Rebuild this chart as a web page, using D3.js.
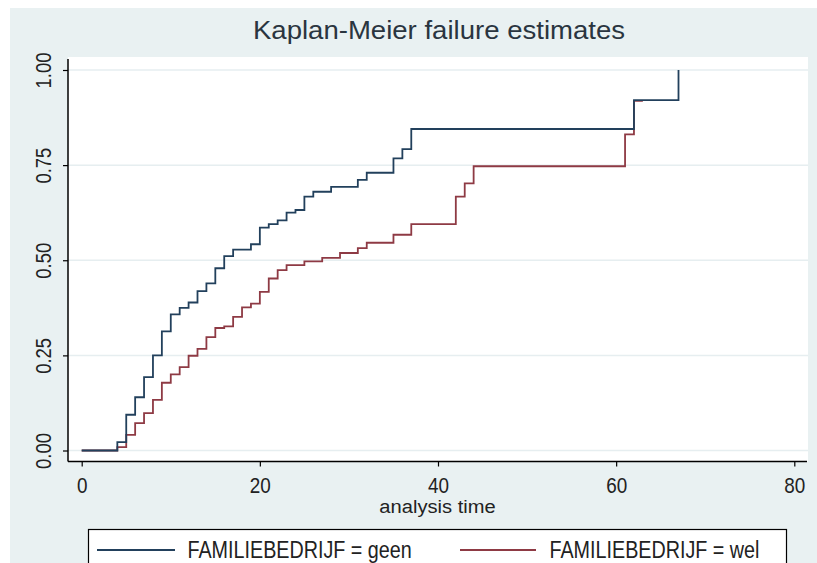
<!DOCTYPE html>
<html><head><meta charset="utf-8">
<script src="https://cdn.jsdelivr.net/npm/d3@7"></script>
<style>html,body{margin:0;padding:0;background:#fff}svg{display:block}</style>
</head><body>
<svg id="c" width="817" height="563"></svg>
<script>
// ---- data ----
const geenTime = [0, 4, 5, 6, 7, 8, 9, 10, 11, 12, 13, 14, 15, 16, 17, 19, 20, 21, 22, 23, 24, 25, 26, 28, 31, 32, 35, 36, 37, 62, 67];
const geenFail = [0, 0.022, 0.094, 0.140, 0.193, 0.250, 0.313, 0.358, 0.375, 0.389, 0.419, 0.439, 0.479, 0.511, 0.528, 0.542, 0.586, 0.595, 0.605, 0.625, 0.632, 0.667, 0.680, 0.693, 0.711, 0.730, 0.768, 0.792, 0.845, 0.921, 1.000];
const welTime = [0, 4, 5, 6, 7, 8, 9, 10, 11, 12, 13, 14, 15, 16, 17, 18, 19, 20, 21, 22, 23, 25, 27, 29, 31, 32, 35, 37, 42, 43, 44, 61, 62, 63];
const welFail = [0, 0.009, 0.041, 0.072, 0.098, 0.133, 0.178, 0.200, 0.219, 0.249, 0.267, 0.298, 0.322, 0.326, 0.351, 0.376, 0.386, 0.417, 0.452, 0.474, 0.487, 0.497, 0.506, 0.519, 0.532, 0.546, 0.567, 0.595, 0.667, 0.702, 0.747, 0.831, 0.919, 0.919];
const xTicks = [0, 20, 40, 60, 80];
const yTicks = [0, 0.25, 0.5, 0.75, 1];
const yTickLabels = ["0.00", "0.25", "0.50", "0.75", "1.00"];
const seriesNames = ["FAMILIEBEDRIJF = geen", "FAMILIEBEDRIJF = wel"];
const titleText = "Kaplan-Meier failure estimates";
const xTitle = "analysis time";

const colGeen = "#22405c", colWel = "#8e3a44";
const bg = "#e9f1f2";
const font = "'Liberation Sans',Arial,sans-serif";
const NARROW = 0.84;

const svg = d3.select("#c");
// outer graph region
svg.append("rect").attr("x",10).attr("y",8).attr("width",807).attr("height",555).attr("fill",bg);
const plotL = 68, plotR = 808, plotT = 57, plotB = 461.5;
svg.append("rect").attr("x",plotL).attr("y",plotT).attr("width",plotR-plotL).attr("height",plotB-plotT).attr("fill","#fff");

const x = d3.scaleLinear().domain([0,80]).range([81.7,794.3]);
const y = d3.scaleLinear().domain([0,1]).range([450.5,70]);

// gridlines
svg.append("g").selectAll("line").data(yTicks).join("line")
  .attr("x1",plotL).attr("x2",plotR).attr("y1",d=>y(d)).attr("y2",d=>y(d))
  .attr("stroke","#e6eef0").attr("stroke-width",1.5);

// curves
const line = d3.line().x(d=>x(d[0])).y(d=>y(d[1])).curve(d3.curveStepAfter);
const geen = geenTime.map((t,i)=>[t,geenFail[i]]);
const wel = welTime.map((t,i)=>[t,welFail[i]]);
svg.append("path").datum(wel).attr("d",line).attr("fill","none").attr("stroke",colWel).attr("stroke-width",1.8);
svg.append("path").datum(geen).attr("d",line).attr("fill","none").attr("stroke",colGeen).attr("stroke-width",1.8);

// y axis
const yAxis = d3.axisLeft(y).tickValues(yTicks).tickFormat((d,i)=>yTickLabels[i]).tickSize(5).tickSizeOuter(0);
const gy = svg.append("g").attr("transform",`translate(${plotL},0)`).call(yAxis);
gy.select(".domain").attr("d",`M0,${plotT+2}V${plotB}`).attr("stroke","#000").attr("stroke-width",1.5);
gy.selectAll(".tick line").attr("stroke","#000").attr("stroke-width",1.2);
gy.selectAll(".tick text").attr("font-family",font).attr("font-size",22).attr("fill","#222")
  .attr("transform",`rotate(-90) scale(${NARROW},1)`).attr("x",0).attr("y",-17).attr("dy",0).attr("text-anchor","middle");

// x axis
const xAxis = d3.axisBottom(x).tickValues(xTicks).tickFormat(d3.format("d")).tickSize(5).tickSizeOuter(0);
const gx = svg.append("g").attr("transform",`translate(0,${plotB})`).call(xAxis);
gx.select(".domain").attr("d",`M${plotL},0H${plotR-1}`).attr("stroke","#000").attr("stroke-width",1.5);
gx.selectAll(".tick line").attr("stroke","#000").attr("stroke-width",1.2);
gx.selectAll(".tick text").attr("font-family",font).attr("font-size",22.5).attr("fill","#222")
  .attr("transform",`scale(${NARROW},1)`).attr("y",32).attr("dy",0);

svg.append("text").attr("transform","translate(437.5,513) scale(1.06,1)").attr("text-anchor","middle")
  .attr("font-family",font).attr("font-size",19).attr("fill","#222").text(xTitle);

// title
svg.append("text").attr("transform","translate(439,39) scale(1.06,1)").attr("text-anchor","middle")
  .attr("font-family",font).attr("font-size",26).attr("fill","#2a3540").text(titleText);

// legend
svg.append("rect").attr("x",88.5).attr("y",529.5).attr("width",698).attr("height",50)
  .attr("fill","#fff").attr("stroke","#000").attr("stroke-width",1.2);
const legItems = [
  {name: seriesNames[0], color: colGeen, x0: 97, x1: 175, tx: 187.5},
  {name: seriesNames[1], color: colWel, x0: 460, x1: 536, tx: 549.5}
];
const lg = svg.append("g").selectAll("g").data(legItems).join("g");
lg.append("line").attr("x1",d=>d.x0).attr("x2",d=>d.x1).attr("y1",550).attr("y2",550)
  .attr("stroke",d=>d.color).attr("stroke-width",1.8);
lg.append("text").attr("transform",d=>`translate(${d.tx},557.5) scale(${NARROW},1)`)
  .attr("font-family",font).attr("font-size",23.5).attr("fill","#222").text(d=>d.name);
</script>
</body></html>
